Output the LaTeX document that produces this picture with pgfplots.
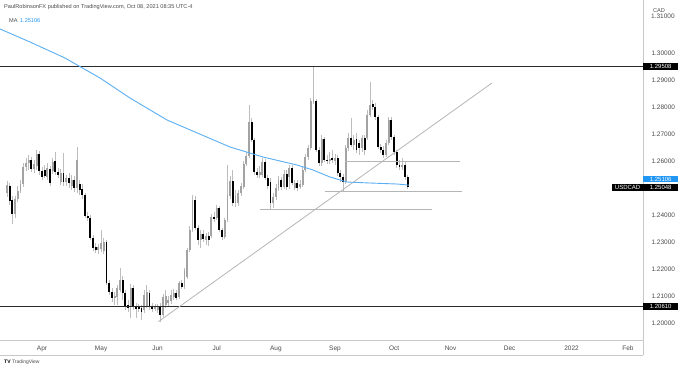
\documentclass[border=0pt]{standalone}
\usepackage{fontspec}
\setmainfont{Liberation Sans}
\usepackage{pgfplots}
\pgfplotsset{compat=1.18}
\usepackage{pgfplotstable}
\definecolor{maBlue}{HTML}{5AAEF2}
\definecolor{boxBlue}{HTML}{2196F3}
\definecolor{upGray}{HTML}{A3A3A3}
\definecolor{wickGray}{HTML}{BDBDBD}
\definecolor{axisGray}{HTML}{C8C8C8}
\definecolor{txtGray}{HTML}{4A4A4A}
\definecolor{lineGray}{HTML}{B5B5B5}
\definecolor{hDark}{HTML}{2A2A2A}

% up candles (close >= open)
\pgfplotstableread{
i o h l c
-13 1.2481 1.2526 1.2467 1.2511
-10 1.2404 1.2470 1.2389 1.2459
-9 1.2459 1.2507 1.2448 1.2489
-8 1.2489 1.2530 1.2481 1.2515
-7 1.2515 1.2593 1.2504 1.2578
-6 1.2578 1.2611 1.2563 1.2593
-5 1.2593 1.2622 1.2567 1.2604
-3 1.2570 1.2604 1.2556 1.2589
-2 1.2581 1.2641 1.2567 1.2626
2 1.2541 1.2593 1.2530 1.2574
4 1.2563 1.2611 1.2552 1.2596
7 1.2522 1.2570 1.2511 1.2556
9 1.2522 1.2548 1.2507 1.2537
11 1.2507 1.2548 1.2493 1.2530
13 1.2500 1.2652 1.2481 1.2604
21 1.2270 1.2293 1.2256 1.2281
22 1.2274 1.2344 1.2263 1.2296
23 1.2267 1.2315 1.2256 1.2300
27 1.2093 1.2115 1.2067 1.2100
28 1.2096 1.2141 1.2067 1.2130
29 1.2122 1.2204 1.2115 1.2159
33 1.2059 1.2144 1.2019 1.2130
38 1.2048 1.2122 1.2037 1.2104
39 1.2063 1.2141 1.2056 1.2115
42 1.2052 1.2070 1.2044 1.2059
43 1.2048 1.2070 1.2037 1.2059
45 1.2030 1.2107 1.2022 1.2096
46 1.2067 1.2122 1.2056 1.2100
47 1.2074 1.2100 1.2063 1.2085
48 1.2081 1.2122 1.2070 1.2104
49 1.2096 1.2126 1.2085 1.2111
51 1.2096 1.2156 1.2089 1.2148
53 1.2133 1.2204 1.2126 1.2196
54 1.2170 1.2278 1.2163 1.2270
55 1.2270 1.2359 1.2263 1.2344
56 1.2344 1.2474 1.2337 1.2456
59 1.2307 1.2344 1.2278 1.2330
61 1.2307 1.2333 1.2289 1.2322
63 1.2322 1.2404 1.2315 1.2393
65 1.2389 1.2437 1.2381 1.2426
68 1.2319 1.2389 1.2311 1.2381
69 1.2381 1.2585 1.2374 1.2474
70 1.2470 1.2544 1.2459 1.2526
72 1.2444 1.2493 1.2430 1.2470
73 1.2444 1.2493 1.2433 1.2481
74 1.2481 1.2519 1.2470 1.2507
75 1.2504 1.2600 1.2496 1.2589
76 1.2589 1.2633 1.2581 1.2619
77 1.2619 1.2807 1.2611 1.2744
81 1.2548 1.2581 1.2537 1.2559
82 1.2548 1.2611 1.2541 1.2596
86 1.2444 1.2481 1.2426 1.2467
87 1.2467 1.2515 1.2456 1.2500
88 1.2500 1.2544 1.2489 1.2530
90 1.2504 1.2567 1.2496 1.2552
92 1.2541 1.2585 1.2496 1.2574
94 1.2500 1.2530 1.2493 1.2519
96 1.2504 1.2530 1.2496 1.2515
97 1.2511 1.2578 1.2504 1.2567
98 1.2567 1.2626 1.2559 1.2615
99 1.2615 1.2659 1.2604 1.2648
100 1.2648 1.2833 1.2641 1.2822
101 1.2819 1.2948 1.2811 1.2826
104 1.2593 1.2696 1.2581 1.2681
107 1.2600 1.2633 1.2589 1.2607
109 1.2600 1.2626 1.2585 1.2611
113 1.2522 1.2659 1.2515 1.2648
114 1.2648 1.2704 1.2637 1.2685
116 1.2659 1.2696 1.2641 1.2678
119 1.2648 1.2696 1.2633 1.2685
121 1.2685 1.2789 1.2678 1.2770
122 1.2770 1.2893 1.2763 1.2807
128 1.2622 1.2678 1.2615 1.2667
129 1.2667 1.2763 1.2659 1.2752
134 1.2581 1.2611 1.2567 1.2585
}\upc

% down candles (close < open)
\pgfplotstableread{
i o h l c
-12 1.2507 1.2519 1.2437 1.2452
-11 1.2456 1.2470 1.2367 1.2404
-4 1.2604 1.2615 1.2559 1.2570
-1 1.2626 1.2637 1.2548 1.2563
0 1.2563 1.2578 1.2530 1.2541
1 1.2567 1.2585 1.2537 1.2544
3 1.2570 1.2581 1.2507 1.2519
5 1.2600 1.2633 1.2548 1.2559
6 1.2559 1.2574 1.2537 1.2548
8 1.2556 1.2630 1.2507 1.2522
10 1.2537 1.2556 1.2500 1.2519
12 1.2530 1.2544 1.2485 1.2500
14 1.2515 1.2530 1.2474 1.2493
15 1.2496 1.2515 1.2459 1.2474
16 1.2474 1.2481 1.2389 1.2396
17 1.2396 1.2411 1.2378 1.2389
18 1.2389 1.2400 1.2307 1.2315
19 1.2315 1.2326 1.2267 1.2278
20 1.2281 1.2296 1.2259 1.2270
24 1.2300 1.2307 1.2141 1.2148
25 1.2148 1.2159 1.2104 1.2115
26 1.2115 1.2130 1.2078 1.2093
30 1.2159 1.2174 1.2085 1.2111
31 1.2111 1.2122 1.2048 1.2063
32 1.2067 1.2085 1.2041 1.2056
34 1.2130 1.2141 1.2048 1.2059
35 1.2063 1.2074 1.2019 1.2052
36 1.2059 1.2070 1.2041 1.2052
37 1.2056 1.2067 1.2011 1.2041
40 1.2111 1.2122 1.2048 1.2059
41 1.2059 1.2074 1.2041 1.2052
44 1.2059 1.2074 1.2004 1.2030
50 1.2111 1.2122 1.2085 1.2093
52 1.2148 1.2159 1.2126 1.2133
57 1.2456 1.2470 1.2344 1.2352
58 1.2352 1.2363 1.2289 1.2307
60 1.2330 1.2344 1.2300 1.2311
62 1.2322 1.2337 1.2285 1.2307
64 1.2393 1.2411 1.2374 1.2385
66 1.2426 1.2433 1.2337 1.2344
67 1.2344 1.2352 1.2307 1.2319
71 1.2526 1.2567 1.2433 1.2444
78 1.2744 1.2759 1.2670 1.2678
79 1.2678 1.2685 1.2548 1.2559
80 1.2559 1.2574 1.2537 1.2548
83 1.2596 1.2607 1.2530 1.2537
84 1.2537 1.2548 1.2496 1.2507
85 1.2522 1.2537 1.2422 1.2444
89 1.2530 1.2541 1.2493 1.2504
91 1.2552 1.2567 1.2493 1.2504
93 1.2574 1.2585 1.2511 1.2519
95 1.2519 1.2530 1.2489 1.2500
102 1.2822 1.2830 1.2633 1.2641
103 1.2641 1.2652 1.2581 1.2593
105 1.2681 1.2689 1.2596 1.2604
106 1.2604 1.2622 1.2589 1.2600
108 1.2611 1.2641 1.2593 1.2604
110 1.2611 1.2622 1.2544 1.2556
111 1.2556 1.2567 1.2522 1.2541
112 1.2541 1.2552 1.2489 1.2522
115 1.2685 1.2759 1.2652 1.2659
117 1.2681 1.2704 1.2630 1.2641
118 1.2667 1.2678 1.2622 1.2648
120 1.2685 1.2696 1.2622 1.2641
123 1.2811 1.2826 1.2789 1.2800
124 1.2800 1.2815 1.2752 1.2763
125 1.2763 1.2770 1.2644 1.2652
126 1.2652 1.2663 1.2630 1.2641
127 1.2641 1.2656 1.2611 1.2622
130 1.2752 1.2763 1.2678 1.2689
131 1.2689 1.2696 1.2622 1.2633
132 1.2633 1.2641 1.2574 1.2585
133 1.2585 1.2604 1.2567 1.2581
135 1.2585 1.2596 1.2530 1.2541
136 1.2541 1.2548 1.2496 1.2505
}\dnc

\newcommand{\tvfont}[1]{\fontsize{#1}{#1}\selectfont}
\pgfplotsset{
  wick/.style={draw=none, mark=none, forget plot,
    error bars/.cd, y dir=both, y explicit, error mark=none,
    error bar style={draw=wickGray, line width=0.7bp}},
  body/.style={draw=none, mark=none, forget plot,
    error bars/.cd, y dir=both, y explicit, error mark=none,
    error bar style={draw=#1, line width=1.9bp}},
}

\begin{document}
\begin{tikzpicture}[x=1bp,y=1bp]
\path[use as bounding box] (0,0) rectangle (680,370);
% time-scale frame
\draw[axisGray, line width=0.6bp] (0,15) -- (643,15);
\draw[axisGray, line width=0.8bp] (643,15) -- (643,30);
\begin{axis}[
  at={(0bp,30bp)}, anchor=south west,
  width=643bp, height=340bp, scale only axis,
  xmin=-15.625, xmax=223.59,
  ymin=1.193704, ymax=1.319630,
  clip=false,
  axis x line*=bottom, axis y line*=right,
  axis line style={axisGray, line width=0.8bp},
  major tick length=0pt,
  xtick={0,22,43,65,87,109,131,152,174,197,218},
  xticklabels={Apr,May,Jun,Jul,Aug,Sep,Oct,Nov,Dec,2022,Feb},
  xticklabel style={font=\tvfont{6.5bp}, text=txtGray, yshift=-2.5bp},
  ytick={1.20,1.21,1.22,1.23,1.24,1.26,1.27,1.28,1.29,1.30},
  yticklabel style={font=\tvfont{6.5bp}, text=txtGray, anchor=west, xshift=5bp,
    /pgf/number format/.cd, fixed, fixed zerofill, precision=5, assume math mode=true},
]
% wicks
\addplot[wick] table[x=i, y expr={(\thisrow{h}+\thisrow{l})/2}, y error expr={(\thisrow{h}-\thisrow{l})/2}] {\upc};
\addplot[wick] table[x=i, y expr={(\thisrow{h}+\thisrow{l})/2}, y error expr={(\thisrow{h}-\thisrow{l})/2}] {\dnc};
% bodies
\addplot[body=upGray] table[x=i, y expr={(\thisrow{o}+\thisrow{c})/2}, y error expr={max(abs(\thisrow{c}-\thisrow{o})/2,0.00016)}] {\upc};
\addplot[body=black] table[x=i, y expr={(\thisrow{o}+\thisrow{c})/2}, y error expr={max(abs(\thisrow{c}-\thisrow{o})/2,0.00016)}] {\dnc};
% horizontal levels
\addplot[hDark, line width=1.1bp] coordinates {(-15.625,1.29508) (223.59,1.29508)};
\addplot[hDark, line width=1.1bp] coordinates {(-15.625,1.20610) (223.59,1.20610)};
\addplot[lineGray, line width=0.8bp] coordinates {(112.7,1.2600) (155.5,1.2600)};
\addplot[lineGray, line width=0.8bp] coordinates {(105.3,1.2489) (156.3,1.2489)};
\addplot[lineGray, line width=0.8bp] coordinates {(81.1,1.2422) (145.1,1.2422)};
% trend line
\addplot[lineGray, line width=0.8bp] coordinates {(43.3,1.2005) (167.4,1.2889)};
% moving average
\addplot[maBlue, line width=0.9bp] coordinates {
(-15.6,1.30889) (-4.46,1.30407) (8.56,1.29815) (21.58,1.29074) (32.74,1.28333)
(46.50,1.27519) (56.92,1.27074) (69.94,1.26519) (82.22,1.26148) (94.87,1.25852)
(100.82,1.25667) (107.14,1.25407) (113.47,1.25222) (122.02,1.25185) (132.07,1.25148) (136.5,1.25106)};
% price labels
\node[fill=black, text=white, anchor=west, minimum width=35bp, inner ysep=1.2bp, inner xsep=1bp, font=\tvfont{6bp}] at (axis cs:223.59,1.29508) {1.29508};
\node[fill=black, text=white, anchor=west, minimum width=35bp, inner ysep=1.2bp, inner xsep=1bp, font=\tvfont{6bp}] at (axis cs:223.59,1.20610) {1.20610};
\node[fill=boxBlue, text=white, anchor=west, minimum width=35bp, inner ysep=1.2bp, inner xsep=1bp, font=\tvfont{6bp}] at (axis cs:223.59,1.25330) {1.25106};
\node[fill=black, text=white, anchor=west, minimum width=35bp, inner ysep=1.2bp, inner xsep=1bp, font=\tvfont{6bp}] at (axis cs:223.59,1.25020) {1.25048};
\node[fill=black, text=white, anchor=east, inner ysep=1.2bp, inner xsep=2.5bp, font=\tvfont{6bp}] at (axis cs:223.59,1.25020) {USDCAD};
\end{axis}
% top price label partly hidden by the currency tag
\node[anchor=west, inner sep=0pt, text=txtGray, font=\tvfont{6.5bp}] at (651,354) {1.31000};
\node[fill=white, fill opacity=0.85, text opacity=1, inner xsep=1bp, inner ysep=0.6bp, text=txtGray, font=\tvfont{5.6bp}] at (659,359.5) {CAD};
% header texts
\node[anchor=west, inner sep=0pt, text=txtGray, font=\tvfont{5.6bp}] at (4,363) {PaulRobinsonFX published on TradingView.com, Oct 08, 2021 08:35 UTC-4};
\node[anchor=west, inner sep=0pt, font=\tvfont{5.6bp}] at (9,349) {\textcolor{txtGray}{MA}\hspace{2.5bp}\textcolor{boxBlue}{1.25106}};
% footer
\node[anchor=west, inner sep=0pt, font=\tvfont{5bp}] at (4,8) {\textbf{TV}\hspace{1.5bp}\textcolor{txtGray}{TradingView}};
\end{tikzpicture}
\end{document}
